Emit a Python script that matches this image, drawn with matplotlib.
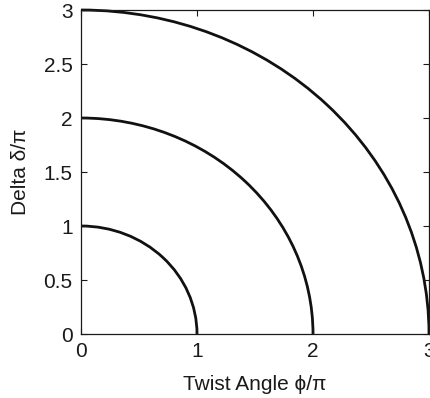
import matplotlib
matplotlib.use("Agg")
import matplotlib.pyplot as plt
from matplotlib.patches import Arc

plt.rcParams["font.family"] = ["Liberation Sans", "DejaVu Sans"]

# Radii of the constant-retardation contours (in units of pi)
radii = [1, 2, 3]
x_ticks = [0, 1, 2, 3]
y_ticks = [0, 0.5, 1, 1.5, 2, 2.5, 3]
y_tick_labels = ["0", "0.5", "1", "1.5", "2", "2.5", "3"]

fig = plt.figure(figsize=(4.3, 3.98), dpi=100)
ax = fig.add_axes([81 / 430, 64 / 398, 348 / 430, 324 / 398])

# Quarter circles centred on the origin
for r in radii:
    ax.add_patch(Arc((0, 0), 2 * r, 2 * r, theta1=0, theta2=90,
                     color="#111111", linewidth=2.0, clip_on=False))

ax.set_xlim(0, 3)
ax.set_ylim(0, 3)
ax.set_xticks(x_ticks)
ax.set_xticklabels([str(t) for t in x_ticks])
ax.set_yticks(y_ticks)
ax.set_yticklabels(y_tick_labels)
ax.tick_params(direction="in", top=True, right=True, length=4,
               labelsize=15, colors="#1a1a1a", pad=6)
for spine in ax.spines.values():
    spine.set_linewidth(0.9)
    spine.set_color("#1a1a1a")

ax.set_xlabel("Twist Angle \u03d5/\u03c0", fontsize=15, color="#1a1a1a", labelpad=10)
ax.set_ylabel("Delta \u03b4/\u03c0", fontsize=15, color="#1a1a1a", labelpad=10)

fig.savefig("out.png", dpi=100)
